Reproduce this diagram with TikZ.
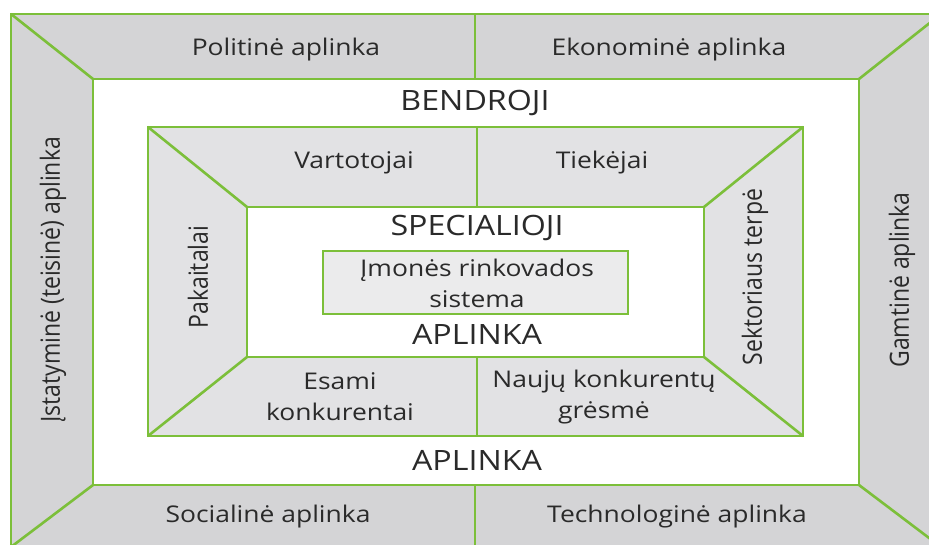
\documentclass[tikz,border=0pt]{standalone}
\usepackage{fontspec}
\setmainfont{Open Sans}
\definecolor{grn}{HTML}{7CBF3A}
\definecolor{gouter}{HTML}{D4D4D6}
\definecolor{ginner}{HTML}{E2E2E4}
\definecolor{gcore}{HTML}{EBEBEC}
\definecolor{txt}{HTML}{2A2A2A}
\tikzset{
  frame/.style={draw=grn, line width=2.6pt, line join=miter},
  lbl/.style={text=txt, font=\fontsize{23}{31}\selectfont, align=center, inner sep=0pt, xscale=1.15},
  head/.style={text=txt, font=\fontsize{28}{32}\selectfont, align=center, inner sep=0pt, xscale=1.15},
  vlbl/.style={lbl, rotate=90},
}
\begin{document}
\begin{tikzpicture}[x=1pt,y=-1pt]
\useasboundingbox (0,0) rectangle (929,545);
\begin{scope}
\clip (0,0) rectangle (929,545);
% outer band
\coordinate (O1) at (11,14); \coordinate (O2) at (941,14);
\coordinate (O3) at (941,547); \coordinate (O4) at (11,547);
\coordinate (W1) at (93,79); \coordinate (W2) at (859,79);
\coordinate (W3) at (859,485); \coordinate (W4) at (93,485);
\fill[gouter] (O1) rectangle (O3);
\fill[white] (W1) rectangle (W3);
\draw[frame] (O1) rectangle (O3);
\draw[frame] (W1) rectangle (W3);
\draw[frame] (O1) -- (W1) (O2) -- (W2) (O3) -- (W3) (O4) -- (W4);
\draw[frame] (475,14) -- (475,79) (475,485) -- (475,547);
% inner band
\coordinate (I1) at (148,127); \coordinate (I2) at (803,127);
\coordinate (I3) at (803,436); \coordinate (I4) at (148,436);
\coordinate (J1) at (247,207); \coordinate (J2) at (704,207);
\coordinate (J3) at (704,357); \coordinate (J4) at (247,357);
\fill[ginner] (I1) rectangle (I3);
\fill[white] (J1) rectangle (J3);
\draw[frame] (I1) rectangle (I3);
\draw[frame] (J1) rectangle (J3);
\draw[frame] (I1) -- (J1) (I2) -- (J2) (I3) -- (J3) (I4) -- (J4);
\draw[frame] (477,127) -- (477,207) (477,357) -- (477,436);
% core
\node[frame, fill=gcore, minimum width=305pt, minimum height=63pt, inner sep=0pt] (core) at (475.5,282.5) {};
\end{scope}
% labels
\node[lbl] (pol) at (286,50) {Politinė aplinka};
\node[lbl] (eko) at (669,50) {Ekonominė aplinka};
\node[lbl] (soc) at (268,517) {Socialinė aplinka};
\node[lbl] (tech) at (677,517) {Technologinė aplinka};
\node[vlbl] (ist) at (53,280) {Įstatyminė (teisinė) aplinka};
\node[vlbl] (gam) at (902,280) {Gamtinė aplinka};
\node[head] (bend) at (475,103) {BENDROJI};
\node[head] (apl1) at (477,460) {APLINKA};
\node[lbl] (var) at (354,163) {Vartotojai};
\node[lbl] (tiek) at (602,163) {Tiekėjai};
\node[vlbl] (pak) at (198,277) {Pakaitalai};
\node[vlbl] (sek) at (755,277) {Sektoriaus terpė};
\node[head] (spec) at (477,228) {SPECIALIOJI};
\node[lbl] (imon) at (477,283) {Įmonės rinkovados\\sistema};
\node[head] (apl2) at (477,334) {APLINKA};
\node[lbl] (esa) at (340,397) {Esami\\konkurentai};
\node[lbl] (nau) at (604,397) {Naujų konkurentų\\grėsmė};
\end{tikzpicture}
\end{document}
